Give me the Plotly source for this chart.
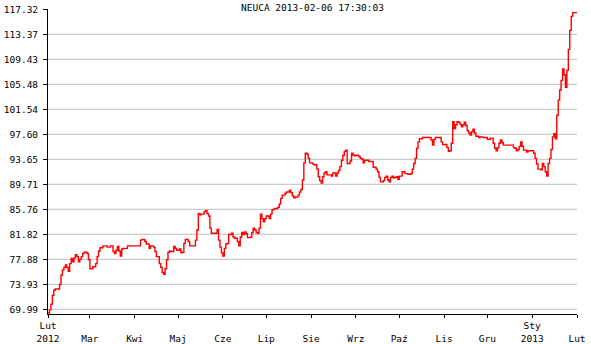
import plotly.graph_objects as go

dates = [
 "2012-02-01","2012-02-02","2012-02-03","2012-02-04","2012-02-05","2012-02-06","2012-02-09","2012-02-10",
 "2012-02-11","2012-02-12","2012-02-13","2012-02-14","2012-02-15","2012-02-16","2012-02-17","2012-02-18",
 "2012-02-19","2012-02-20","2012-02-21","2012-02-22","2012-02-23","2012-02-24","2012-02-25","2012-02-26",
 "2012-02-28","2012-02-29","2012-03-01","2012-03-03","2012-03-05","2012-03-06","2012-03-07","2012-03-08",
 "2012-03-10","2012-03-13","2012-03-15","2012-03-17","2012-03-18","2012-03-19","2012-03-20","2012-03-21",
 "2012-03-22","2012-03-23","2012-03-24","2012-03-27","2012-04-05","2012-04-06","2012-04-08","2012-04-09",
 "2012-04-11","2012-04-12","2012-04-14","2012-04-15","2012-04-16","2012-04-18","2012-04-19","2012-04-20",
 "2012-04-21","2012-04-22","2012-04-23","2012-04-24","2012-04-25","2012-04-26","2012-04-28","2012-04-29",
 "2012-04-30","2012-05-02",
 "2012-05-03","2012-05-04","2012-05-05","2012-05-06","2012-05-08","2012-05-09","2012-05-13","2012-05-14",
 "2012-05-15","2012-05-16","2012-05-17","2012-05-19","2012-05-20","2012-05-21","2012-05-22","2012-05-23",
 "2012-05-24","2012-05-28","2012-05-29","2012-05-30","2012-05-31","2012-06-01","2012-06-02","2012-06-03",
 "2012-06-04","2012-06-05","2012-06-07","2012-06-08","2012-06-09","2012-06-11","2012-06-12","2012-06-13",
 "2012-06-14","2012-06-15","2012-06-16","2012-06-17","2012-06-18","2012-06-20","2012-06-21","2012-06-22",
 "2012-06-23","2012-06-24","2012-06-25","2012-06-26","2012-06-27","2012-06-28","2012-06-29","2012-06-30",
 "2012-07-01","2012-07-03","2012-07-04","2012-07-05","2012-07-06","2012-07-07","2012-07-09","2012-07-10",
 "2012-07-11","2012-07-12","2012-07-14","2012-07-15","2012-07-17","2012-07-18","2012-07-19","2012-07-20",
 "2012-07-21","2012-07-23","2012-07-24","2012-07-25","2012-07-26","2012-07-27","2012-07-28","2012-07-29",
 "2012-07-30","2012-07-31","2012-08-02",
 "2012-08-03","2012-08-05","2012-08-06","2012-08-07","2012-08-08","2012-08-09","2012-08-10","2012-08-11",
 "2012-08-12","2012-08-15","2012-08-16","2012-08-18","2012-08-19","2012-08-20","2012-08-21","2012-08-22",
 "2012-08-23","2012-08-24","2012-08-25","2012-08-26","2012-08-28","2012-08-29","2012-08-30","2012-08-31",
 "2012-09-01","2012-09-03","2012-09-04","2012-09-05","2012-09-06","2012-09-07","2012-09-10","2012-09-13",
 "2012-09-15","2012-09-16","2012-09-17","2012-09-18","2012-09-20","2012-09-21","2012-09-22","2012-09-23",
 "2012-09-24","2012-09-25","2012-09-26","2012-09-27","2012-09-28","2012-09-29","2012-09-30","2012-10-01",
 "2012-10-03","2012-10-05","2012-10-07","2012-10-09","2012-10-10","2012-10-11","2012-10-12","2012-10-13",
 "2012-10-14","2012-10-15","2012-10-17","2012-10-23","2012-10-24","2012-10-25","2012-10-26","2012-10-30",
 "2012-10-31",
 "2012-11-03","2012-11-04","2012-11-05","2012-11-06","2012-11-07","2012-11-08","2012-11-09","2012-11-10",
 "2012-11-11","2012-11-12","2012-11-13","2012-11-14","2012-11-15","2012-11-16","2012-11-17","2012-11-18",
 "2012-11-19","2012-11-20","2012-11-21","2012-11-22","2012-11-23","2012-11-25","2012-11-26","2012-11-28",
 "2012-12-01","2012-12-03","2012-12-05","2012-12-06","2012-12-07","2012-12-08","2012-12-09","2012-12-10",
 "2012-12-11","2012-12-12","2012-12-19","2012-12-20","2012-12-21","2012-12-22","2012-12-23","2012-12-24",
 "2012-12-25","2012-12-26","2012-12-28","2012-12-29","2013-01-02","2013-01-03","2013-01-04","2013-01-05",
 "2013-01-07","2013-01-08","2013-01-09","2013-01-10","2013-01-11","2013-01-12","2013-01-13","2013-01-14",
 "2013-01-15","2013-01-16","2013-01-17","2013-01-18","2013-01-19","2013-01-20","2013-01-21","2013-01-22",
 "2013-01-23","2013-01-24","2013-01-25","2013-01-26","2013-01-27","2013-01-28","2013-01-29","2013-02-02",
]

prices = [
 69.4,69.9,70.8,72.2,73.0,73.2,73.9,75.4,
 76.2,76.6,77.0,76.6,76.0,77.2,78.0,77.5,
 78.1,78.6,78.3,77.5,77.9,78.3,78.8,79.0,
 78.8,77.8,76.4,76.7,77.2,78.3,79.2,79.7,
 80.0,79.8,80.0,79.1,78.8,79.3,79.9,79.2,
 78.4,79.5,79.6,80.0,80.9,81.0,80.7,80.3,
 79.6,80.0,79.8,79.1,78.3,77.2,76.6,75.8,
 75.5,76.4,77.8,79.0,79.2,79.1,79.9,79.6,
 79.3,79.5,
 78.9,79.0,80.4,81.0,80.7,80.0,80.9,82.5,
 85.1,84.9,85.0,85.4,85.6,85.1,84.7,82.8,
 82.0,82.6,80.9,79.8,78.9,78.4,79.6,80.3,
 80.4,81.8,82.0,81.4,81.2,80.7,80.0,81.4,
 82.1,81.8,82.2,81.9,81.3,81.4,82.1,82.8,
 82.5,82.1,82.0,82.8,85.0,84.3,83.8,84.3,
 84.7,84.3,85.0,85.7,85.8,85.9,86.1,86.6,
 87.5,88.0,88.3,88.5,88.8,88.4,87.9,87.6,
 87.7,88.0,88.5,88.9,90.4,93.1,94.6,94.5,
 93.8,93.1,92.9,
 92.8,92.1,90.9,90.3,89.9,90.9,91.5,91.7,
 91.2,91.0,91.5,91.0,91.5,91.9,92.5,93.5,
 94.3,94.9,95.1,93.0,93.4,94.6,94.3,94.2,
 94.3,94.1,93.8,93.7,93.1,93.5,93.3,92.4,
 92.1,91.7,90.8,90.1,90.3,90.8,91.0,90.4,
 90.1,90.8,91.0,90.7,90.8,90.9,90.5,91.0,
 91.7,91.4,91.3,91.4,92.1,93.0,93.8,95.4,
 96.4,96.9,97.1,96.7,95.9,96.8,97.1,96.4,
 96.0,
 95.5,94.9,95.0,96.2,99.6,98.5,99.1,99.6,
 99.5,99.2,98.8,99.1,99.5,99.0,98.2,97.8,
 97.5,98.0,98.4,97.8,97.3,97.1,97.2,97.1,
 96.8,97.0,96.2,95.4,95.0,95.5,96.2,96.7,
 96.3,95.9,95.5,95.4,95.0,95.2,95.7,96.4,
 95.7,95.1,94.8,95.0,94.6,93.8,92.9,92.1,
 92.0,93.0,92.5,91.7,91.0,93.0,93.8,95.2,
 97.2,97.7,96.9,100.6,103.0,104.6,106.1,107.9,
 107.0,105.0,107.7,111.0,114.0,116.2,116.8,116.8,
]

y_ticks = [69.99, 73.93, 77.88, 81.82, 85.76, 89.71, 93.65, 97.60, 101.54, 105.48, 109.43, 113.37, 117.32]
y_tick_text = ["69.99", "73.93", "77.88", "81.82", "85.76", "89.71", "93.65", "97.60",
               "101.54", "105.48", "109.43", "113.37", "117.32"]
grid_values = y_ticks[:-1]

x_ticks = ["2012-02-01", "2012-03-01", "2012-04-01", "2012-05-01", "2012-06-01", "2012-07-01",
           "2012-08-01", "2012-09-01", "2012-10-01", "2012-11-01", "2012-12-01", "2013-01-01", "2013-02-01"]
x_tick_text = ["Lut<br>2012", "<br>Mar", "<br>Kwi", "<br>Maj", "<br>Cze", "<br>Lip", "<br>Sie",
               "<br>Wrz", "<br>Paź", "<br>Lis", "<br>Gru", "Sty<br>2013", "<br>Lut"]

title_text = "NEUCA 2013-02-06 17:30:03"
FONT = "DejaVu Sans Mono"

fig = go.Figure()
fig.add_trace(go.Scatter(x=dates, y=prices, mode="lines", line=dict(color="#ff0000", width=1.4, shape="hv"),
                         showlegend=False, hoverinfo="skip"))

for g in grid_values:
    fig.add_shape(type="line", xref="paper", x0=0, x1=1, yref="y", y0=g, y1=g,
                  line=dict(color="#cccccc", width=1.2), layer="below")

fig.update_layout(
    width=591, height=344,
    margin=dict(l=48, r=14, t=9, b=30),
    paper_bgcolor="white", plot_bgcolor="white",
    title=dict(text=title_text, x=0.5, xanchor="center", xref="paper", y=1 - 8/344, yref="container",
               yanchor="middle", font=dict(family=FONT, size=9.5, color="black"), automargin=False),
    font=dict(family=FONT, size=9.5, color="black"),
    xaxis=dict(type="date", range=["2012-02-01", "2013-02-01"], tickmode="array", tickvals=x_ticks,
               ticktext=x_tick_text, showgrid=False, zeroline=False, showline=True, linecolor="black",
               linewidth=1, ticks="outside", ticklen=3, tickcolor="black", tickangle=0, automargin=False,
               tickfont=dict(family=FONT, size=9.5, color="black")),
    yaxis=dict(range=[69.25, 117.37], tickmode="array", tickvals=y_ticks, ticktext=y_tick_text,
               showgrid=False, zeroline=False, showline=True, linecolor="black", linewidth=1,
               ticks="outside", ticklen=4, tickcolor="black", ticklabelstandoff=3, automargin=False,
               tickfont=dict(family=FONT, size=9.5, color="black")),
)

fig.write_html("out.html")
